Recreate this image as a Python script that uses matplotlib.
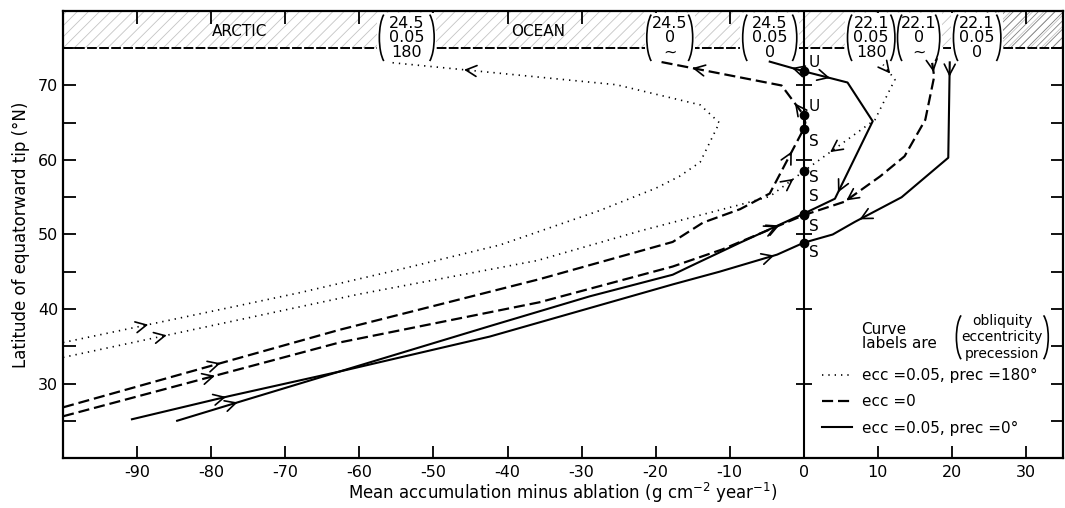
import numpy as np
import matplotlib
matplotlib.use('Agg')
import matplotlib.pyplot as plt
from matplotlib.patches import Arc, Rectangle
from matplotlib.lines import Line2D

plt.rcParams['font.family'] = ['DejaVu Sans']
plt.rcParams['font.size'] = 11.5
plt.rcParams['axes.unicode_minus'] = False
plt.rcParams['mathtext.default'] = 'regular'
plt.rcParams['hatch.linewidth'] = 0.6

# net balance (x) against latitude of the equatorward tip (y), listed from the
# equatorward end of each curve.  Arrows are (segment, fraction, +1/-1 along the list)
# obliquity 24.5
dot245_x = [-100, -77, -68, -54.6, -41, -27.6, -20, -16.8, -14, -11.4, -14, -25.3, -56]
dot245_y = [35.5, 40.3, 42.2, 45.3, 48.6, 53.2, 56.2, 57.8, 59.7, 65.0, 67.4, 70.1, 73.1]
dot245_arrows = [(0, 0.5, 1), (11, 0.67, 1)]

dash245_x = [-100, -62.7, -35.7, -17.7, -13.6, -8.6, -4.6, 0, 0.2, 0, -3, -19.5]
dash245_y = [26.8, 37.2, 44.0, 49.0, 51.6, 53.4, 55.5, 64.2, 65.0, 66.0, 70.0, 73.2]
dash245_arrows = [(0, 0.57, 1), (6, 0.65, 1), (9, 0.4, 1), (10, 0.73, 1)]

sol245_x = [-84.6, -76, -62.7, -42.4, -28.9, -17.7, -15.4, -8.6, 0, 4.2, 9.3, 5.9, 0, -4.6]
sol245_y = [25.0, 27.6, 31.6, 37.7, 41.7, 44.6, 45.7, 48.9, 52.8, 54.8, 65.2, 70.4, 71.9, 73.2]
sol245_arrows = [(0, 0.95, 1), (7, 0.58, 1), (9, 0.08, -1), (11, 0.4, -1), (12, 0.35, 1)]

# obliquity 22.1
dot221_x = [-100, -60, -36, -22, -8.6, -4.6, 0, 9.6, 12.3, 10.7]
dot221_y = [33.5, 42.0, 46.5, 50.5, 54.0, 55.1, 58.5, 65.4, 70.8, 72.8]
dot221_arrows = [(0, 0.35, 1), (5, 0.7, 1), (6, 0.37, -1), (8, 0.4, -1)]

dash221_x = [-100, -62.7, -35.7, -17.7, -11, 0, 5.5, 10.3, 13.6, 16.4, 17.6, 17.3]
dash221_y = [25.6, 35.5, 40.9, 45.7, 48.0, 52.6, 54.4, 57.8, 60.5, 65.4, 71.2, 73.2]
dash221_arrows = [(0, 0.55, 1), (4, 0.7, 1), (6, 0.05, -1), (10, 0.3, -1)]

sol221_x = [-90.7, -77.6, -62.7, -42.4, -17.7, -11.4, -3.6, 0, 3.9, 6.9, 13.2, 19.5, 19.7]
sol221_y = [25.2, 28.3, 31.6, 36.3, 43.3, 45.0, 47.3, 48.9, 50.0, 51.7, 55.0, 60.3, 73.1]
sol221_arrows = [(0, 0.97, 1), (5, 0.95, 1), (9, 0.1, -1), (11, 0.85, -1)]

# equilibria on the zero-balance line
eq_lat = [71.9, 66.0, 64.2, 58.5, 52.8, 52.6, 48.9]
eq_kind = ['U', 'U', 'S', 'S', 'S', 'S', 'S']
eq_label_dy = [1.2, 1.2, -1.7, -0.9, 2.3, -1.5, -1.3]

# curve labels (obliquity, eccentricity, precession)
lab_x = [-53.6, -18.1, -4.6, 9.1, 15.5, 23.4]
lab_obl = ['24.5', '24.5', '24.5', '22.1', '22.1', '22.1']
lab_ecc = ['0.05', '0', '0.05', '0.05', '0', '0.05']
lab_prec = ['180', '~', '0', '180', '~', '0']
lab_halfw = [3.7, 3.1, 3.65, 3.2, 2.85, 3.2]

legend_labels = ['ecc =0.05, prec =180\u00b0', 'ecc =0', 'ecc =0.05, prec =0\u00b0']

styles = {
    'dot': dict(lw=1.2, ls=(0, (0.8, 3.0))),
    'dash': dict(lw=1.6, ls=(0, (5, 2.2))),
    'sol': dict(lw=1.5, ls='-'),
}


def parens(ax, xc, yc, hw, h, lw=1.2):
    aw = 2.3
    ax.add_patch(Arc((xc - hw + aw / 2, yc), aw, h, theta1=100, theta2=260,
                     lw=lw, color='k', zorder=4))
    ax.add_patch(Arc((xc + hw - aw / 2, yc), aw, h, theta1=-80, theta2=80,
                     lw=lw, color='k', zorder=4))


def arrows(ax, xs, ys, marks):
    inv = ax.transData.inverted()
    for seg, t, sgn in marks:
        p0 = np.array([xs[seg], ys[seg]], float)
        p1 = np.array([xs[seg + 1], ys[seg + 1]], float)
        head = p0 + t * (p1 - p0)
        a = ax.transData.transform([p0, p1])
        d = (a[1] - a[0]) * sgn
        d = d / np.hypot(*d)
        tail = inv.transform(ax.transData.transform(head) - 4 * d)
        ax.annotate('', xy=head, xytext=tail,
                    arrowprops=dict(arrowstyle='->,head_length=0.55,head_width=0.28',
                                    lw=1.2, color='k', shrinkA=0, shrinkB=0,
                                    mutation_scale=14), zorder=5)


fig = plt.figure(figsize=(10.65, 5.08), dpi=100)
ax = fig.add_axes([0.0592, 0.0984, 0.939, 0.880])
ax.set_xlim(-100, 35)
ax.set_ylim(20, 80)

# Arctic Ocean band along the top
ax.axhspan(75, 80, facecolor='none', edgecolor='#c4c4c4', hatch='///', lw=0, zorder=1)
ax.add_patch(Rectangle((24.5, 75), 10.5, 5, facecolor='none', edgecolor='#808080',
                       hatch='////', lw=0, zorder=1))
ax.axhline(75, color='k', lw=1.4, ls=(0, (5, 1.2)), zorder=2)
ax.text(-76.2, 77.2, 'ARCTIC', ha='center', va='center', fontsize=11)
ax.text(-35.8, 77.2, 'OCEAN', ha='center', va='center', fontsize=11)

# zero balance line with latitude marks
ax.axvline(0, color='k', lw=1.5, zorder=3)
marks = np.arange(30, 71, 10)
ax.plot(np.zeros(len(marks)), marks, '_', ms=11, mew=1.3, color='k', zorder=3)

curves = [
    (dot245_x, dot245_y, dot245_arrows, 'dot'),
    (dash245_x, dash245_y, dash245_arrows, 'dash'),
    (sol245_x, sol245_y, sol245_arrows, 'sol'),
    (dot221_x, dot221_y, dot221_arrows, 'dot'),
    (dash221_x, dash221_y, dash221_arrows, 'dash'),
    (sol221_x, sol221_y, sol221_arrows, 'sol'),
]
for xs, ys, am, st in curves:
    ax.plot(xs, ys, color='k', zorder=4, **styles[st])
    arrows(ax, xs, ys, am)

ax.plot(np.zeros(len(eq_lat)), eq_lat, 'o', ms=6, color='k', zorder=6)
for lat, kind, dy in zip(eq_lat, eq_kind, eq_label_dy):
    ax.text(0.7, lat + dy, kind, ha='left', va='center', fontsize=11, zorder=6)

# curve labels sitting in the band
for xc, o, e, p, hw in zip(lab_x, lab_obl, lab_ecc, lab_prec, lab_halfw):
    ax.add_patch(Rectangle((xc - hw - 0.3, 73.6), 2 * hw + 0.6, 79.7 - 73.6,
                           facecolor='white', edgecolor='none', zorder=3.5))
    ax.text(xc, 76.4, o + '\n' + e + '\n' + p, ha='center', va='center',
            fontsize=11.5, linespacing=0.95, zorder=5)
    parens(ax, xc, 76.4, hw, 7.1)

# key
ax.text(7.8, 36.3, 'Curve\nlabels are', ha='left', va='center', fontsize=11,
        linespacing=0.95)
ax.text(26.8, 36.2, 'obliquity\neccentricity\nprecession', ha='center', va='center',
        fontsize=10, linespacing=1.2)
parens(ax, 26.8, 36.2, 6.2, 6.6)
handles = [Line2D([], [], color='k', **styles[s]) for s in ('dot', 'dash', 'sol')]
ax.legend(handles, legend_labels, loc='upper left', bbox_to_anchor=(2.4, 32.1),
          bbox_transform=ax.transData, frameon=False, fontsize=11, borderpad=0,
          borderaxespad=0, handlelength=2.0, handletextpad=0.65, labelspacing=0.75)

ax.set_xticks(np.arange(-90, 31, 10))
ax.set_yticks(np.arange(30, 71, 10))
ax.set_yticks(np.arange(25, 76, 5), minor=True)
ax.tick_params(which='both', direction='in', top=True, right=True, width=1.3,
               length=9, labelsize=11.5)
ax.tick_params(axis='x', pad=5)
for s in ax.spines.values():
    s.set_linewidth(1.6)

ax.set_xlabel('Mean accumulation minus ablation (g cm$^{-2}$ year$^{-1}$)', fontsize=12,
              labelpad=1)
ax.set_ylabel('Latitude of equatorward tip (\u00b0N)', fontsize=12, labelpad=6)

fig.savefig('out.png', dpi=100)
